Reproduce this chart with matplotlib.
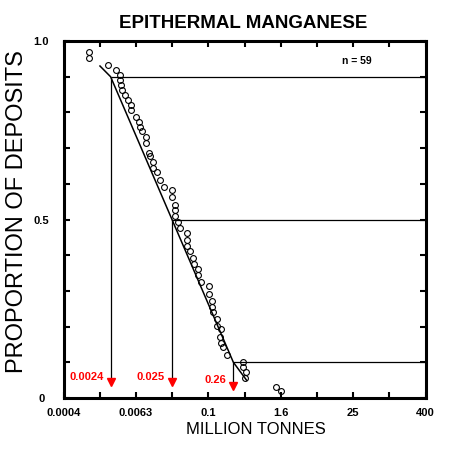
import numpy as np
import matplotlib
matplotlib.use('Agg')
import matplotlib.pyplot as plt

plt.rcParams['font.family'] = ['Liberation Sans', 'DejaVu Sans']

# тоннаж месторождений (млн т) и доля месторождений
tonnes = [0.00107, 0.00107, 0.00220, 0.00296, 0.00338, 0.00344, 0.00351, 0.00372,
          0.00417, 0.00458, 0.00514, 0.00514, 0.00634, 0.00698, 0.00724, 0.00798,
          0.00912, 0.00912, 0.0104, 0.0106, 0.0121, 0.0123, 0.0139, 0.0156,
          0.0181, 0.0248, 0.0248, 0.0281, 0.0281, 0.0281, 0.0319, 0.0334,
          0.0440, 0.0440, 0.0450, 0.0499, 0.0566, 0.0581, 0.0670, 0.0670,
          0.0759, 0.103, 0.103, 0.117, 0.117, 0.121, 0.138, 0.138,
          0.161, 0.157, 0.161, 0.178, 0.207, 0.370, 0.378, 0.424,
          0.407, 1.33, 1.59]
proportion = [0.970, 0.952, 0.932, 0.920, 0.904, 0.890, 0.876, 0.862,
              0.848, 0.834, 0.820, 0.806, 0.787, 0.773, 0.759, 0.748,
              0.731, 0.714, 0.687, 0.678, 0.661, 0.645, 0.634, 0.611,
              0.592, 0.584, 0.564, 0.542, 0.528, 0.511, 0.492, 0.475,
              0.461, 0.442, 0.425, 0.411, 0.392, 0.374, 0.360, 0.344,
              0.325, 0.313, 0.292, 0.272, 0.256, 0.241, 0.222, 0.202,
              0.193, 0.171, 0.153, 0.142, 0.121, 0.102, 0.088, 0.074,
              0.056, 0.032, 0.020]

# аппроксимирующая линия
fit_tonnes = [0.0016, 0.0024, 0.025, 0.26, 0.43]
fit_prop = [0.93, 0.9, 0.5, 0.1, 0.05]

# 90, 50, 10 процентили
pct_tonnes = [0.0024, 0.025, 0.26]
pct_prop = [0.9, 0.5, 0.1]
pct_labels = ['0.0024', '0.025', '0.26']

tick_labels = ['0.0004', '', '0.0063', '', '0.1', '', '1.6', '', '25', '', '400']
xmin, xmax = 10 ** -3.4, 10 ** 2.6

fig = plt.figure(figsize=(4.64, 4.62), dpi=100)
ax = fig.add_axes([0.1369, 0.1385, 0.7802, 0.7727])

ax.plot(tonnes, proportion, 'o', mfc='none', mec='black', ms=4.2, mew=0.8)
ax.plot(fit_tonnes, fit_prop, color='black', lw=1.1)
ax.hlines(pct_prop, pct_tonnes, xmax, color='black', lw=0.9)

# стрелки с подписями
arrow_y = [0.045, 0.045, 0.034]
text_y = [0.058, 0.058, 0.050]
for xv, yv, ay, ty, lab in zip(pct_tonnes, pct_prop, arrow_y, text_y, pct_labels):
    ax.vlines(xv, ay, yv, color='black', lw=0.9)
    ax.plot(xv, ay, 'v', color='red', ms=6)
    ax.annotate(lab, (xv, ty), xytext=(-5, 0), textcoords='offset points',
                ha='right', va='center', color='red', fontsize=8, fontweight='bold')

ax.text(0.81, 0.945, 'n = 59', transform=ax.transAxes, ha='center', va='center',
        fontsize=7.5, fontweight='bold')

ax.set_xscale('log')
ax.set_xlim(xmin, xmax)
ax.set_ylim(0, 1)
ax.set_xticks(10 ** np.linspace(-3.4, 2.6, 11))
ax.set_xticklabels(tick_labels)
ax.xaxis.set_minor_locator(plt.NullLocator())
ax.set_yticks(np.linspace(0, 1, 11))
ax.set_yticklabels(['0', '', '', '', '', '0.5', '', '', '', '', '1.0'])
ax.tick_params(direction='in', length=4.5, width=1.5, top=True, right=True,
               labelsize=8)
ax.tick_params(axis='x', pad=7)
ax.tick_params(axis='y', pad=16)
for lbl in ax.get_xticklabels() + ax.get_yticklabels():
    lbl.set_fontweight('bold')
for lbl in ax.get_yticklabels():
    lbl.set_ha('center')
for sp in ax.spines.values():
    sp.set_linewidth(2.2)

fig.text(243 / 464, 1 - 23 / 462, 'EPITHERMAL MANGANESE', ha='center', va='center',
         fontsize=13.5, fontweight='bold')
fig.text(255.5 / 464, 1 - 430 / 462, 'MILLION TONNES', ha='center', va='center',
         fontsize=12)
fig.text(17 / 464, 1 - 211.5 / 462, 'PROPORTION OF DEPOSITS', ha='center', va='center',
         rotation=90, fontsize=17)

fig.savefig('out.png', dpi=100)
